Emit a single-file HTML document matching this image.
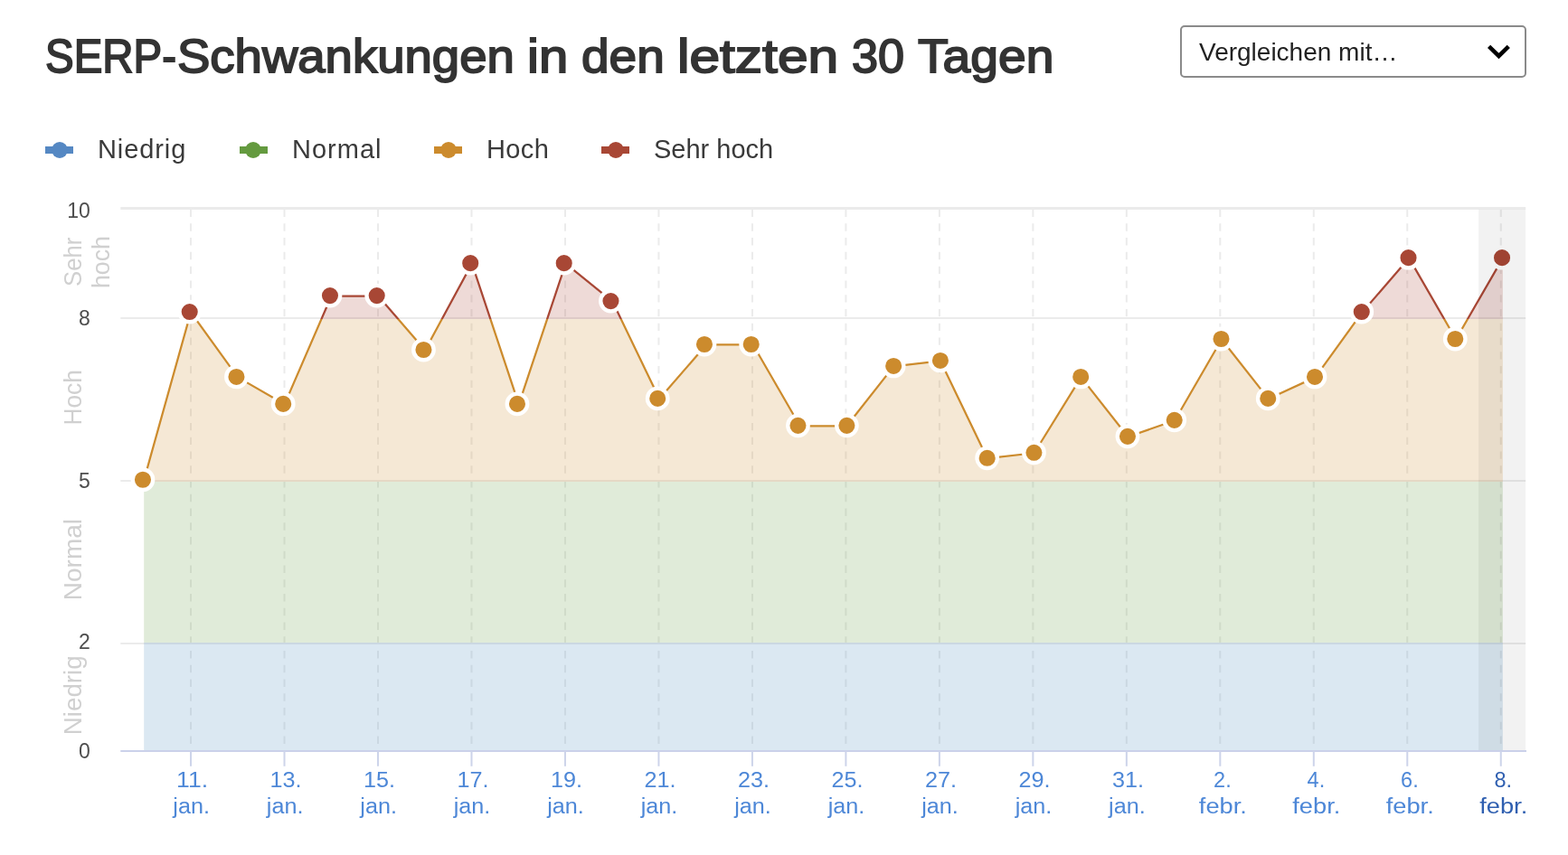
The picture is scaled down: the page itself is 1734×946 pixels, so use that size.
<!DOCTYPE html>
<html lang="de">
<head>
<meta charset="utf-8">
<title>SERP-Schwankungen in den letzten 30 Tagen</title>
<style>
html,body{margin:0;padding:0;background:#fff;}
body{width:1734px;height:946px;overflow:hidden;position:relative;font-family:"Liberation Sans",sans-serif;}
#page{position:absolute;left:0;top:0;width:1734px;height:946px;overflow:hidden;background:#fff;}
h1.title{position:absolute;left:0;top:33px;width:1240px;height:60px;margin:0;font-family:"Liberation Sans",sans-serif;font-weight:normal;font-size:51.2px;line-height:60px;color:#333;-webkit-text-stroke:1.8px #333;white-space:nowrap;}
h1.title span{position:absolute;top:0;display:block;transform-origin:0 50%;}
.select{position:absolute;left:1305px;top:28px;width:383px;height:58px;}
.select select{-webkit-appearance:none;appearance:none;display:block;box-sizing:border-box;width:383px;height:58px;margin:0;padding:2px 60px 0 19px;border:2px solid #8a8a8a;border-radius:5px;background:#fff;outline:none;font-family:"Liberation Sans",sans-serif;font-size:28px;line-height:32px;color:#222;}
.select svg{position:absolute;left:338px;top:20px;pointer-events:none;}
ul.legend{position:absolute;left:0;top:0;margin:0;padding:0;list-style:none;}
ul.legend li{position:absolute;top:147px;height:36px;white-space:nowrap;font-family:"Liberation Sans",sans-serif;font-size:29px;line-height:36px;color:#3a3a3a;}
ul.legend li .mk{position:absolute;left:0;top:10px;width:32px;height:18px;}
ul.legend li .mk i{position:absolute;left:0;top:5px;width:31px;height:8px;}
ul.legend li .mk b{position:absolute;left:7px;top:0;width:18px;height:18px;border-radius:50%;}
ul.legend li .lb{position:absolute;left:58px;top:0;}
svg.chart{position:absolute;left:0;top:0;}
svg.chart text{font-family:"Liberation Sans",sans-serif;}
</style>
</head>
<body>
<div id="page">
<h1 class="title"><span style="left:50.2px;transform:scaleX(0.9266)">SERP-</span><span style="left:195.8px;transform:scaleX(1.065)">Schwankungen</span> <span style="left:583.0px;transform:scaleX(1.1324)">in</span> <span style="left:643.0px;transform:scaleX(1.0744)">den</span> <span style="left:749.4px;transform:scaleX(1.1814)">letzten</span> <span style="left:941.6px;transform:scaleX(1.02)">30</span> <span style="left:1014.8px;transform:scaleX(1.0781)">Tagen</span></h1>
<div class="select"><select aria-label="Vergleichen mit"><option selected>Vergleichen mit…</option></select><svg width="28" height="20" viewBox="0 0 28 20" aria-hidden="true"><path d="M3.6 3.4 L14.45 13.95 L25.3 3.4" fill="none" stroke="#000" stroke-width="4.6"/></svg></div>

<ul class="legend">
<li style="left:50px"><span class="mk"><i style="background:#5588c3"></i><b style="background:#5588c3;left:7px"></b></span><span class="lb" style="letter-spacing:0.9px">Niedrig</span></li>
<li style="left:265px"><span class="mk"><i style="background:#649a3f"></i><b style="background:#649a3f;left:6.3px"></b></span><span class="lb" style="letter-spacing:1.0px">Normal</span></li>
<li style="left:480px"><span class="mk"><i style="background:#cc8b2d"></i><b style="background:#cc8b2d;left:7px"></b></span><span class="lb" style="letter-spacing:0.4px">Hoch</span></li>
<li style="left:665px"><span class="mk"><i style="background:#a84735"></i><b style="background:#a84735;left:7px"></b></span><span class="lb" style="letter-spacing:0.0px">Sehr hoch</span></li>
</ul>
<svg class="chart" width="1734" height="946" viewBox="0 0 1734 946">
<defs>
<clipPath id="zv"><rect x="0" y="0" width="1734" height="353"/></clipPath>
<clipPath id="zh"><rect x="0" y="353" width="1734" height="180"/></clipPath>
<clipPath id="zn"><rect x="0" y="533" width="1734" height="178"/></clipPath>
<clipPath id="zl"><rect x="0" y="711" width="1734" height="120"/></clipPath>
</defs>
<g stroke="#ebebeb" stroke-width="2" fill="none">
<path d="M133.3 230.4H1687.2" stroke-width="3"/>
<path d="M133.3 351.9H1687.2"/>
<path d="M133.3 531.9H1687.2"/>
<path d="M133.3 711.9H1687.2"/>
</g>
<g stroke="#ebebeb" stroke-width="2" stroke-dasharray="8.4 7.357" fill="none">
<path d="M211.04 231.6V830"/>
<path d="M314.52 231.6V830"/>
<path d="M418 231.6V830"/>
<path d="M521.48 231.6V830"/>
<path d="M624.96 231.6V830"/>
<path d="M728.44 231.6V830"/>
<path d="M831.92 231.6V830"/>
<path d="M935.4 231.6V830"/>
<path d="M1038.88 231.6V830"/>
<path d="M1142.36 231.6V830"/>
<path d="M1245.84 231.6V830"/>
<path d="M1349.32 231.6V830"/>
<path d="M1452.8 231.6V830"/>
<path d="M1556.28 231.6V830"/>
<path d="M1659.76 231.6V830"/>
</g>
<path d="M159.2 831L159.2 531.2L211.02 345.51L262.83 417.39L314.65 447.34L366.47 327.54L418.28 327.54L470.1 387.44L521.92 291.6L573.74 447.34L625.55 291.6L677.37 333.53L729.19 441.35L781 381.45L832.82 381.45L884.64 471.3L936.45 471.3L988.27 405.41L1040.09 399.42L1091.91 507.24L1143.72 501.25L1195.54 417.39L1247.36 483.28L1299.17 465.31L1350.99 375.46L1402.81 441.35L1454.62 417.39L1506.44 345.51L1558.26 285.61L1610.08 375.46L1661.89 285.61L1661.89 831Z" fill="#a84735" fill-opacity="0.2" clip-path="url(#zv)"/>
<path d="M159.2 831L159.2 531.2L211.02 345.51L262.83 417.39L314.65 447.34L366.47 327.54L418.28 327.54L470.1 387.44L521.92 291.6L573.74 447.34L625.55 291.6L677.37 333.53L729.19 441.35L781 381.45L832.82 381.45L884.64 471.3L936.45 471.3L988.27 405.41L1040.09 399.42L1091.91 507.24L1143.72 501.25L1195.54 417.39L1247.36 483.28L1299.17 465.31L1350.99 375.46L1402.81 441.35L1454.62 417.39L1506.44 345.51L1558.26 285.61L1610.08 375.46L1661.89 285.61L1661.89 831Z" fill="#cc8b2d" fill-opacity="0.2" clip-path="url(#zh)"/>
<path d="M159.2 831L159.2 531.2L211.02 345.51L262.83 417.39L314.65 447.34L366.47 327.54L418.28 327.54L470.1 387.44L521.92 291.6L573.74 447.34L625.55 291.6L677.37 333.53L729.19 441.35L781 381.45L832.82 381.45L884.64 471.3L936.45 471.3L988.27 405.41L1040.09 399.42L1091.91 507.24L1143.72 501.25L1195.54 417.39L1247.36 483.28L1299.17 465.31L1350.99 375.46L1402.81 441.35L1454.62 417.39L1506.44 345.51L1558.26 285.61L1610.08 375.46L1661.89 285.61L1661.89 831Z" fill="#649a3f" fill-opacity="0.2" clip-path="url(#zn)"/>
<path d="M159.2 831L159.2 531.2L211.02 345.51L262.83 417.39L314.65 447.34L366.47 327.54L418.28 327.54L470.1 387.44L521.92 291.6L573.74 447.34L625.55 291.6L677.37 333.53L729.19 441.35L781 381.45L832.82 381.45L884.64 471.3L936.45 471.3L988.27 405.41L1040.09 399.42L1091.91 507.24L1143.72 501.25L1195.54 417.39L1247.36 483.28L1299.17 465.31L1350.99 375.46L1402.81 441.35L1454.62 417.39L1506.44 345.51L1558.26 285.61L1610.08 375.46L1661.89 285.61L1661.89 831Z" fill="#4c8cbc" fill-opacity="0.2" clip-path="url(#zl)"/>
<path d="M159.2 531.2L211.02 345.51L262.83 417.39L314.65 447.34L366.47 327.54L418.28 327.54L470.1 387.44L521.92 291.6L573.74 447.34L625.55 291.6L677.37 333.53L729.19 441.35L781 381.45L832.82 381.45L884.64 471.3L936.45 471.3L988.27 405.41L1040.09 399.42L1091.91 507.24L1143.72 501.25L1195.54 417.39L1247.36 483.28L1299.17 465.31L1350.99 375.46L1402.81 441.35L1454.62 417.39L1506.44 345.51L1558.26 285.61L1610.08 375.46L1661.89 285.61" fill="none" stroke="#a84735" stroke-width="2.25" stroke-linejoin="round" stroke-linecap="round" clip-path="url(#zv)"/>
<path d="M159.2 531.2L211.02 345.51L262.83 417.39L314.65 447.34L366.47 327.54L418.28 327.54L470.1 387.44L521.92 291.6L573.74 447.34L625.55 291.6L677.37 333.53L729.19 441.35L781 381.45L832.82 381.45L884.64 471.3L936.45 471.3L988.27 405.41L1040.09 399.42L1091.91 507.24L1143.72 501.25L1195.54 417.39L1247.36 483.28L1299.17 465.31L1350.99 375.46L1402.81 441.35L1454.62 417.39L1506.44 345.51L1558.26 285.61L1610.08 375.46L1661.89 285.61" fill="none" stroke="#cc8b2d" stroke-width="2.25" stroke-linejoin="round" stroke-linecap="round" clip-path="url(#zh)"/>
<path d="M159.2 531.2L211.02 345.51L262.83 417.39L314.65 447.34L366.47 327.54L418.28 327.54L470.1 387.44L521.92 291.6L573.74 447.34L625.55 291.6L677.37 333.53L729.19 441.35L781 381.45L832.82 381.45L884.64 471.3L936.45 471.3L988.27 405.41L1040.09 399.42L1091.91 507.24L1143.72 501.25L1195.54 417.39L1247.36 483.28L1299.17 465.31L1350.99 375.46L1402.81 441.35L1454.62 417.39L1506.44 345.51L1558.26 285.61L1610.08 375.46L1661.89 285.61" fill="none" stroke="#649a3f" stroke-width="2.25" stroke-linejoin="round" stroke-linecap="round" clip-path="url(#zn)"/>
<path d="M159.2 531.2L211.02 345.51L262.83 417.39L314.65 447.34L366.47 327.54L418.28 327.54L470.1 387.44L521.92 291.6L573.74 447.34L625.55 291.6L677.37 333.53L729.19 441.35L781 381.45L832.82 381.45L884.64 471.3L936.45 471.3L988.27 405.41L1040.09 399.42L1091.91 507.24L1143.72 501.25L1195.54 417.39L1247.36 483.28L1299.17 465.31L1350.99 375.46L1402.81 441.35L1454.62 417.39L1506.44 345.51L1558.26 285.61L1610.08 375.46L1661.89 285.61" fill="none" stroke="#5588c3" stroke-width="2.25" stroke-linejoin="round" stroke-linecap="round" clip-path="url(#zl)"/>
<path d="M133.3 831.05H1688" stroke="#cbd1ea" stroke-width="2.1" fill="none"/>
<g stroke="#cdd4ea" stroke-width="2" fill="none">
<path d="M211.04 831V847.8"/>
<path d="M314.52 831V847.8"/>
<path d="M418 831V847.8"/>
<path d="M521.48 831V847.8"/>
<path d="M624.96 831V847.8"/>
<path d="M728.44 831V847.8"/>
<path d="M831.92 831V847.8"/>
<path d="M935.4 831V847.8"/>
<path d="M1038.88 831V847.8"/>
<path d="M1142.36 831V847.8"/>
<path d="M1245.84 831V847.8"/>
<path d="M1349.32 831V847.8"/>
<path d="M1452.8 831V847.8"/>
<path d="M1556.28 831V847.8"/>
<path d="M1659.76 831V847.8"/>
</g>
<g stroke="#fff" stroke-width="4.35">
<circle cx="157.96" cy="530.75" r="11.22" fill="#cc8b2d"/>
<circle cx="209.71" cy="345.06" r="11.22" fill="#a84735"/>
<circle cx="261.46" cy="416.94" r="11.22" fill="#cc8b2d"/>
<circle cx="313.21" cy="446.89" r="11.22" fill="#cc8b2d"/>
<circle cx="364.96" cy="327.09" r="11.22" fill="#a84735"/>
<circle cx="416.71" cy="327.09" r="11.22" fill="#a84735"/>
<circle cx="468.46" cy="386.99" r="11.22" fill="#cc8b2d"/>
<circle cx="520.21" cy="291.15" r="11.22" fill="#a84735"/>
<circle cx="571.96" cy="446.89" r="11.22" fill="#cc8b2d"/>
<circle cx="623.71" cy="291.15" r="11.22" fill="#a84735"/>
<circle cx="675.46" cy="333.08" r="11.22" fill="#a84735"/>
<circle cx="727.21" cy="440.9" r="11.22" fill="#cc8b2d"/>
<circle cx="778.96" cy="381" r="11.22" fill="#cc8b2d"/>
<circle cx="830.71" cy="381" r="11.22" fill="#cc8b2d"/>
<circle cx="882.46" cy="470.85" r="11.22" fill="#cc8b2d"/>
<circle cx="936.4" cy="470.85" r="11.22" fill="#cc8b2d"/>
<circle cx="988.16" cy="404.96" r="11.22" fill="#cc8b2d"/>
<circle cx="1039.92" cy="398.97" r="11.22" fill="#cc8b2d"/>
<circle cx="1091.68" cy="506.79" r="11.22" fill="#cc8b2d"/>
<circle cx="1143.44" cy="500.8" r="11.22" fill="#cc8b2d"/>
<circle cx="1195.2" cy="416.94" r="11.22" fill="#cc8b2d"/>
<circle cx="1246.96" cy="482.83" r="11.22" fill="#cc8b2d"/>
<circle cx="1298.72" cy="464.86" r="11.22" fill="#cc8b2d"/>
<circle cx="1350.48" cy="375.01" r="11.22" fill="#cc8b2d"/>
<circle cx="1402.24" cy="440.9" r="11.22" fill="#cc8b2d"/>
<circle cx="1454" cy="416.94" r="11.22" fill="#cc8b2d"/>
<circle cx="1505.76" cy="345.06" r="11.22" fill="#a84735"/>
<circle cx="1557.52" cy="285.16" r="11.22" fill="#a84735"/>
<circle cx="1609.28" cy="375.01" r="11.22" fill="#cc8b2d"/>
<circle cx="1661.04" cy="285.16" r="11.22" fill="#a84735"/>
</g>
<rect x="1635.05" y="231.7" width="52.05" height="598.4" fill="#000" fill-opacity="0.052"/>
<g font-size="23" fill="#4d4d4d" text-anchor="end">
<text x="99.8" y="241">10</text>
<text x="99.8" y="359.8">8</text>
<text x="99.8" y="539.5">5</text>
<text x="99.8" y="718">2</text>
<text x="99.8" y="838.8">0</text>
</g>
<g font-size="28" fill="#d0d0d0" text-anchor="middle">
<text transform="translate(90.3 289.8) rotate(-90) scale(0.917 1)">Sehr</text>
<text transform="translate(121.3 290) rotate(-90) scale(0.956 1)">hoch</text>
<text transform="translate(90.3 439.9) rotate(-90) scale(0.94 1)">Hoch</text>
<text transform="translate(90.3 619.1) rotate(-90)">Normal</text>
<text transform="translate(90.2 769.3) rotate(-90) scale(0.992 1)">Niedrig</text>
</g>
<g font-size="23.5" fill="#4d87d7" text-anchor="middle">
<text x="212.64" y="870.8" textLength="35" lengthAdjust="spacingAndGlyphs">11.</text>
<text x="211.64" y="899.6" textLength="40.6" lengthAdjust="spacingAndGlyphs">jan.</text>
<text x="316.12" y="870.8" textLength="35" lengthAdjust="spacingAndGlyphs">13.</text>
<text x="315.12" y="899.6" textLength="40.6" lengthAdjust="spacingAndGlyphs">jan.</text>
<text x="419.6" y="870.8" textLength="35" lengthAdjust="spacingAndGlyphs">15.</text>
<text x="418.6" y="899.6" textLength="40.6" lengthAdjust="spacingAndGlyphs">jan.</text>
<text x="523.08" y="870.8" textLength="35" lengthAdjust="spacingAndGlyphs">17.</text>
<text x="522.08" y="899.6" textLength="40.6" lengthAdjust="spacingAndGlyphs">jan.</text>
<text x="626.56" y="870.8" textLength="35" lengthAdjust="spacingAndGlyphs">19.</text>
<text x="625.56" y="899.6" textLength="40.6" lengthAdjust="spacingAndGlyphs">jan.</text>
<text x="730.04" y="870.8" textLength="35" lengthAdjust="spacingAndGlyphs">21.</text>
<text x="729.04" y="899.6" textLength="40.6" lengthAdjust="spacingAndGlyphs">jan.</text>
<text x="833.52" y="870.8" textLength="35" lengthAdjust="spacingAndGlyphs">23.</text>
<text x="832.52" y="899.6" textLength="40.6" lengthAdjust="spacingAndGlyphs">jan.</text>
<text x="937" y="870.8" textLength="35" lengthAdjust="spacingAndGlyphs">25.</text>
<text x="936" y="899.6" textLength="40.6" lengthAdjust="spacingAndGlyphs">jan.</text>
<text x="1040.48" y="870.8" textLength="35" lengthAdjust="spacingAndGlyphs">27.</text>
<text x="1039.48" y="899.6" textLength="40.6" lengthAdjust="spacingAndGlyphs">jan.</text>
<text x="1143.96" y="870.8" textLength="35" lengthAdjust="spacingAndGlyphs">29.</text>
<text x="1142.96" y="899.6" textLength="40.6" lengthAdjust="spacingAndGlyphs">jan.</text>
<text x="1247.44" y="870.8" textLength="35" lengthAdjust="spacingAndGlyphs">31.</text>
<text x="1246.44" y="899.6" textLength="40.6" lengthAdjust="spacingAndGlyphs">jan.</text>
<text x="1351.92" y="870.8">2.</text>
<text x="1352.32" y="899.6" textLength="53" lengthAdjust="spacingAndGlyphs">febr.</text>
<text x="1455.4" y="870.8">4.</text>
<text x="1455.8" y="899.6" textLength="53" lengthAdjust="spacingAndGlyphs">febr.</text>
<text x="1558.88" y="870.8">6.</text>
<text x="1559.28" y="899.6" textLength="53" lengthAdjust="spacingAndGlyphs">febr.</text>
<text x="1662.36" y="870.8" fill="#2f5fb0">8.</text>
<text x="1662.76" y="899.6" textLength="53" lengthAdjust="spacingAndGlyphs" fill="#2f5fb0">febr.</text>
</g>
</svg>
</div>
</body>
</html>
